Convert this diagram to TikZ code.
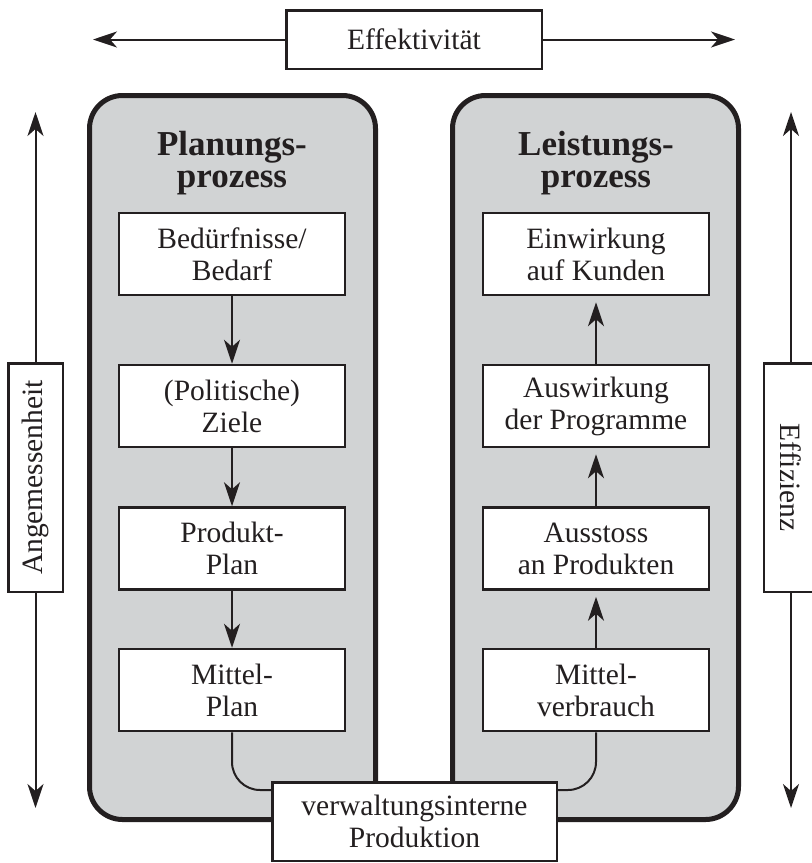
\documentclass[tikz,border=0pt]{standalone}
\usepackage{fontspec}
\setmainfont{Liberation Serif}
\usetikzlibrary{arrows.meta}
\definecolor{ink}{HTML}{231F20}
\definecolor{panelgray}{HTML}{D1D3D4}
\begin{document}
\begin{tikzpicture}[x=1pt,y=-1pt,
  panel/.style={draw=ink, line width=5pt, fill=panelgray, rounded corners=33pt,
    minimum width=286pt, minimum height=724pt, inner sep=0pt},
  ibox/.style={draw=ink, line width=2.5pt, fill=white, minimum width=226pt,
    minimum height=82pt, inner sep=0pt, align=center, text=ink,
    font=\fontsize{29.5}{32}\selectfont},
  obox/.style={draw=ink, line width=2.5pt, fill=white, inner sep=0pt,
    align=center, text=ink, font=\fontsize{29.5}{32}\selectfont},
  ttl/.style={anchor=base, text=ink, inner sep=0pt,
    font=\fontsize{35}{24}\selectfont\bfseries},
  conn/.style={draw=ink, line width=2pt},
  arr/.style={conn, -{Stealth[length=24pt,width=16pt,inset=7pt]}},
]
\useasboundingbox (0,0) rectangle (812,863);

% panels
\node[panel] (lp) at (232.5,457.5) {};
\node[panel] (rp) at (595.5,457.5) {};

% titles
\node[ttl] (lt1) at (232,155) {Planungs-};
\node[ttl] (lt2) at (232,187) {prozess};
\node[ttl] (rt1) at (596,155) {Leistungs-};
\node[ttl] (rt2) at (596,187) {prozess};

% left column
\node[ibox] (l1) at (232,254) {Bedürfnisse/\\Bedarf};
\node[ibox] (l2) at (232,406) {(Politische)\\Ziele};
\node[ibox] (l3) at (232,548.5) {Produkt-\\Plan};
\node[ibox] (l4) at (232,690) {Mittel-\\Plan};

% right column
\node[ibox] (r1) at (596,254) {Einwirkung\\auf Kunden};
\node[ibox] (r2) at (596,406) {Auswirkung\\der Programme};
\node[ibox] (r3) at (596,548.5) {Ausstoss\\an Produkten};
\node[ibox] (r4) at (596,690) {Mittel-\\verbrauch};

\draw[arr] (l1) -- (l2);
\draw[arr] (l2) -- (l3);
\draw[arr] (l3) -- (l4);
\draw[arr, shorten >=6pt] (r4) -- (r3);
\draw[arr, shorten >=6pt] (r3) -- (r2);
\draw[arr, shorten >=6pt] (r2) -- (r1);

% bottom box and curves
\node[obox, minimum width=284.5pt, minimum height=78.5pt] (vp) at (414.5,821.5)
  {verwaltungsinterne\\Produktion};
\coordinate (vpl) at ([yshift=-9pt]vp.north west);
\coordinate (vpr) at ([yshift=-9pt]vp.north east);
\draw[conn, rounded corners=28pt] (l4.south) |- (vpl);
\draw[conn, rounded corners=28pt] (r4.south) |- (vpr);

% top: Effektivitaet
\node[obox, minimum width=255.5pt, minimum height=58.5pt] (eff) at (414,39.5) {Effektivität};
\coordinate (effl) at (93,39.5);
\coordinate (effr) at (735,39.5);
\draw[arr] (eff) -- (effl);
\draw[arr] (eff) -- (effr);

% left: Angemessenheit
\node[obox, rotate=90, minimum width=228.5pt, minimum height=54.5pt] (ang) at (35.5,477.5) {Angemessenheit};
\coordinate (angt) at (35.5,112);
\coordinate (angb) at (35.5,808);
\draw[arr] (ang) -- (angt);
\draw[arr] (ang) -- (angb);

% right: Effizienz
\node[obox, rotate=-90, minimum width=228.5pt, minimum height=54.5pt] (ezz) at (791,477.5) {Effizienz};
\coordinate (ezzt) at (791,112);
\coordinate (ezzb) at (791,808);
\draw[arr] (ezz) -- (ezzt);
\draw[arr] (ezz) -- (ezzb);
\end{tikzpicture}
\end{document}
